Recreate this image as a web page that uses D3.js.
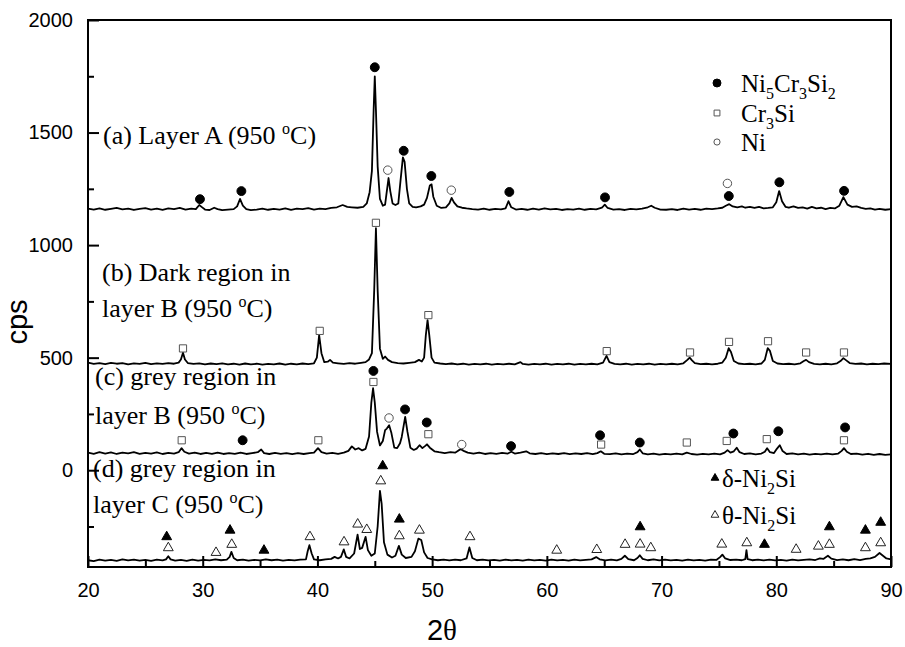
<!DOCTYPE html>
<html>
<head>
<meta charset="utf-8">
<script src="https://cdn.jsdelivr.net/npm/d3@7"></script>
<style>
  body { margin: 0; background: #fff; }
  .tick text { font-family: "Liberation Sans", Arial, sans-serif; font-size: 20px; fill: #000; }
  .note { font-family: "Liberation Serif", "Times New Roman", serif; font-size: 26px; fill: #000; }
  .leg { font-family: "Liberation Serif", "Times New Roman", serif; font-size: 25px; fill: #000; }
</style>
</head>
<body>
<div id="chart"></div>
<script>
// XRD patterns, [2theta, cps] (offset curves)
var layerA = [[20,1162],[20.5,1158],[21,1163],[21.5,1157],[22,1161],[22.5,1165],[23,1159],[23.5,1162],[24,1156],[24.5,1161],[25,1164],[25.5,1158],[26,1162],[26.5,1157],[27,1163],[27.5,1160],[28,1165],[28.5,1158],[29,1162],[29.4,1160],[29.7,1178],[29.9,1170],[30.2,1158],[30.6,1156],[31,1166],[31.3,1160],[31.7,1155],[32.2,1158],[32.7,1160],[33.0,1172],[33.25,1205],[33.5,1175],[33.8,1160],[34.2,1155],[34.7,1158],[35.2,1162],[35.7,1157],[36.2,1161],[36.7,1158],[37.2,1163],[37.7,1157],[38.2,1162],[38.7,1160],[39.2,1164],[39.7,1158],[40.2,1162],[40.7,1160],[41.2,1165],[41.7,1168],[42.2,1178],[42.6,1170],[43.0,1168],[43.5,1166],[44.0,1170],[44.3,1185],[44.55,1235],[44.75,1330],[44.9,1600],[45.0,1750],[45.1,1600],[45.25,1350],[45.45,1205],[45.7,1175],[45.9,1180],[46.05,1240],[46.2,1298],[46.35,1240],[46.55,1185],[46.8,1178],[47.05,1185],[47.25,1290],[47.45,1390],[47.6,1370],[47.8,1250],[48.0,1185],[48.3,1170],[48.6,1168],[49.0,1172],[49.3,1180],[49.55,1210],[49.8,1265],[49.95,1270],[50.1,1215],[50.4,1175],[50.8,1165],[51.2,1168],[51.5,1185],[51.7,1210],[51.9,1190],[52.2,1172],[52.6,1166],[53.0,1163],[53.5,1160],[54.0,1158],[54.5,1162],[55.0,1157],[55.5,1161],[56.0,1159],[56.4,1163],[56.65,1195],[56.9,1168],[57.3,1158],[57.8,1161],[58.3,1157],[58.8,1162],[59.3,1158],[59.8,1163],[60.3,1159],[60.8,1161],[61.3,1156],[61.8,1160],[62.3,1158],[62.8,1162],[63.3,1157],[63.8,1161],[64.3,1159],[64.8,1166],[65.05,1180],[65.3,1165],[65.8,1158],[66.3,1160],[66.8,1156],[67.3,1161],[67.8,1159],[68.3,1162],[68.8,1168],[69.1,1175],[69.4,1166],[69.9,1158],[70.4,1157],[70.9,1160],[71.4,1156],[71.9,1162],[72.4,1158],[72.9,1161],[73.4,1157],[73.9,1162],[74.4,1160],[74.9,1163],[75.3,1166],[75.6,1175],[75.9,1182],[76.2,1172],[76.6,1168],[77.0,1172],[77.3,1166],[77.7,1170],[78.1,1165],[78.5,1170],[78.9,1163],[79.3,1165],[79.7,1168],[80.0,1190],[80.25,1240],[80.5,1195],[80.8,1170],[81.1,1166],[81.5,1172],[81.9,1165],[82.3,1168],[82.7,1162],[83.1,1170],[83.5,1163],[83.9,1166],[84.3,1160],[84.7,1165],[85.1,1163],[85.5,1175],[85.85,1213],[86.2,1180],[86.6,1170],[87.0,1172],[87.4,1165],[87.8,1161],[88.2,1163],[88.6,1158],[89.0,1161],[89.5,1157],[90,1160]];

var layerB = [[20,478],[20.5,472],[21,476],[21.5,471],[22,477],[22.5,473],[23,476],[23.5,470],[24,475],[24.5,472],[25,477],[25.5,471],[26,475],[26.5,472],[27,476],[27.5,473],[27.9,478],[28.1,492],[28.28,522],[28.45,492],[28.7,476],[29.2,472],[29.7,475],[30.2,470],[30.7,474],[31.2,471],[31.7,475],[32.2,470],[32.7,473],[33.2,469],[33.7,474],[34.2,470],[34.7,473],[35.2,469],[35.7,472],[36.2,470],[36.7,474],[37.2,469],[37.7,473],[38.2,470],[38.7,474],[39.2,471],[39.7,475],[39.95,500],[40.15,600],[40.35,520],[40.6,480],[40.9,482],[41.1,490],[41.35,478],[41.8,475],[42.3,472],[42.8,476],[43.3,473],[43.8,477],[44.2,480],[44.5,492],[44.75,520],[44.95,800],[45.1,1075],[45.25,800],[45.45,540],[45.7,495],[45.9,505],[46.15,490],[46.5,480],[47.0,476],[47.5,474],[48.0,477],[48.5,480],[48.85,490],[49.1,483],[49.3,500],[49.45,600],[49.6,667],[49.75,600],[49.95,500],[50.2,478],[50.7,474],[51.2,471],[51.7,474],[52.2,470],[52.7,473],[53.2,469],[53.7,472],[54.2,470],[54.7,473],[55.2,469],[55.7,472],[56.2,470],[56.7,473],[57.2,470],[57.7,480],[57.9,472],[58.4,469],[58.9,472],[59.4,470],[59.9,473],[60.4,469],[60.9,472],[61.4,470],[61.9,473],[62.4,469],[62.9,472],[63.4,470],[63.9,473],[64.4,470],[64.9,478],[65.2,508],[65.45,480],[65.9,472],[66.4,470],[66.9,473],[67.4,469],[67.9,472],[68.4,470],[68.9,473],[69.4,469],[69.9,472],[70.4,470],[70.9,473],[71.4,470],[71.9,475],[72.25,490],[72.45,500],[72.65,488],[72.9,476],[73.4,471],[73.9,473],[74.4,470],[74.9,473],[75.3,478],[75.6,500],[75.85,542],[76.05,525],[76.3,485],[76.7,474],[77.2,471],[77.7,473],[78.2,470],[78.7,474],[79.0,490],[79.25,542],[79.45,530],[79.7,485],[80.1,474],[80.6,471],[81.1,473],[81.6,470],[82.1,475],[82.4,485],[82.6,490],[82.85,480],[83.3,472],[83.8,470],[84.3,473],[84.8,470],[85.3,475],[85.6,485],[85.85,498],[86.1,488],[86.4,476],[86.9,472],[87.4,474],[87.9,470],[88.4,473],[88.9,471],[89.4,474],[90,472]];

var layerC = [[20,78],[20.5,73],[21,80],[21.5,74],[22,79],[22.5,72],[23,78],[23.5,75],[24,80],[24.5,73],[25,77],[25.5,74],[26,79],[26.5,72],[27,77],[27.5,74],[27.9,80],[28.15,98],[28.4,82],[28.8,74],[29.3,78],[29.8,72],[30.3,77],[30.8,73],[31.3,78],[31.8,72],[32.3,76],[32.8,73],[33.3,78],[33.8,72],[34.3,76],[34.8,80],[35.1,92],[35.35,76],[35.8,72],[36.3,77],[36.8,73],[37.3,76],[37.8,71],[38.3,76],[38.8,72],[39.3,76],[39.7,78],[40.05,98],[40.35,80],[40.8,74],[41.3,77],[41.8,73],[42.3,78],[42.7,86],[43.0,106],[43.3,92],[43.6,98],[43.9,88],[44.2,95],[44.5,150],[44.7,300],[44.85,364],[45.0,300],[45.2,170],[45.45,110],[45.7,130],[45.9,178],[46.05,185],[46.25,200],[46.45,165],[46.7,100],[46.95,98],[47.2,120],[47.35,148],[47.65,237],[47.85,170],[48.1,100],[48.4,90],[48.65,96],[48.9,111],[49.15,98],[49.4,108],[49.55,115],[49.8,100],[50.2,84],[50.6,80],[51.1,76],[51.6,80],[52.0,78],[52.3,88],[52.5,93],[52.75,86],[53.1,78],[53.6,74],[54.1,78],[54.6,72],[55.1,76],[55.6,73],[56.1,77],[56.6,74],[56.9,82],[57.2,74],[57.7,78],[58.2,84],[58.5,75],[59.0,72],[59.5,76],[60.0,71],[60.5,75],[61.0,72],[61.5,76],[62.0,71],[62.5,75],[63.0,72],[63.5,76],[64.0,71],[64.4,76],[64.7,84],[65.0,73],[65.5,71],[66.0,75],[66.5,70],[67.0,74],[67.5,71],[67.9,80],[68.1,92],[68.35,75],[68.8,70],[69.3,74],[69.8,69],[70.3,73],[70.8,70],[71.3,74],[71.8,70],[72.2,78],[72.6,72],[73.1,69],[73.6,73],[74.1,70],[74.6,74],[75.1,70],[75.5,78],[75.75,89],[76.0,78],[76.3,84],[76.55,100],[76.8,80],[77.2,72],[77.7,75],[78.2,70],[78.7,74],[79.0,82],[79.2,98],[79.45,80],[79.8,76],[80.05,95],[80.3,111],[80.55,85],[80.9,72],[81.4,75],[81.9,70],[82.4,74],[82.9,69],[83.4,73],[83.9,70],[84.4,74],[84.9,70],[85.4,74],[85.7,86],[85.9,98],[86.15,82],[86.5,72],[87.0,74],[87.5,69],[88.0,73],[88.5,68],[89.0,72],[89.5,68],[90,70]];

var layerD = [[20,-400],[20.5,-404],[21,-397],[21.5,-402],[22,-398],[22.5,-403],[23,-396],[23.5,-401],[24,-397],[24.5,-402],[25,-398],[25.5,-403],[26,-397],[26.5,-401],[26.8,-396],[27.0,-382],[27.2,-396],[27.6,-402],[28.1,-398],[28.6,-403],[29.1,-397],[29.6,-402],[30.1,-398],[30.6,-401],[31.1,-396],[31.6,-400],[32.1,-397],[32.35,-385],[32.5,-363],[32.7,-390],[33.0,-400],[33.5,-397],[34.0,-402],[34.5,-398],[35.0,-401],[35.5,-396],[36.0,-400],[36.5,-397],[37.0,-402],[37.5,-398],[38.0,-401],[38.5,-397],[39.0,-396],[39.15,-360],[39.3,-333],[39.5,-370],[39.7,-396],[40.2,-400],[40.7,-396],[41.2,-394],[41.5,-385],[41.8,-392],[42.05,-385],[42.3,-352],[42.5,-385],[42.8,-392],[43.2,-370],[43.5,-286],[43.7,-350],[43.9,-345],[44.2,-296],[44.4,-355],[44.7,-380],[45.0,-370],[45.25,-250],[45.45,-92],[45.6,-150],[45.8,-320],[46.1,-375],[46.5,-388],[46.8,-380],[47.1,-336],[47.35,-375],[47.7,-390],[48.2,-385],[48.5,-360],[48.8,-304],[49.05,-310],[49.3,-365],[49.6,-390],[50.0,-396],[50.5,-400],[51.0,-397],[51.5,-401],[52.0,-397],[52.5,-400],[53.0,-392],[53.25,-343],[53.5,-390],[53.9,-400],[54.4,-397],[54.9,-401],[55.4,-398],[55.9,-402],[56.4,-397],[56.9,-401],[57.4,-398],[57.9,-402],[58.4,-397],[58.9,-401],[59.4,-398],[59.9,-402],[60.4,-397],[60.9,-401],[61.4,-398],[61.9,-402],[62.4,-397],[62.9,-401],[63.4,-398],[63.9,-396],[64.3,-386],[64.6,-396],[65.1,-401],[65.6,-397],[66.1,-401],[66.5,-394],[66.8,-380],[67.1,-395],[67.6,-400],[67.9,-390],[68.1,-378],[68.35,-394],[68.8,-400],[69.3,-396],[69.8,-401],[70.3,-397],[70.8,-401],[71.3,-398],[71.8,-402],[72.3,-397],[72.8,-401],[73.3,-398],[73.8,-402],[74.3,-397],[74.8,-398],[75.1,-386],[75.3,-375],[75.55,-392],[76.0,-399],[76.5,-397],[77.0,-400],[77.3,-395],[77.4,-355],[77.5,-395],[77.9,-400],[78.4,-397],[78.9,-401],[79.4,-397],[79.9,-401],[80.4,-398],[80.9,-402],[81.4,-397],[81.9,-401],[82.4,-398],[82.9,-396],[83.4,-399],[83.8,-392],[84.1,-394],[84.5,-380],[84.8,-393],[85.3,-399],[85.8,-396],[86.3,-400],[86.8,-395],[87.3,-399],[87.8,-394],[88.2,-392],[88.6,-385],[89.0,-368],[89.3,-380],[89.6,-392],[90,-396]];

// phase markers [2theta, cps]
var ni5cr3si2 = [[29.76,1204],[33.37,1240],[45.0,1790],[47.52,1419],[49.93,1307],[56.73,1236],[65.07,1212],[75.86,1218],[80.27,1279],[85.91,1241],
                 [33.48,133],[44.88,441],[47.64,270],[49.53,212],[56.88,107],[64.64,155],[68.1,123],[76.26,163],[80.18,173],[86.0,190]];
var cr3si = [[28.28,541],[40.2,619],[45.1,1099],[49.67,689],[65.22,529],[72.48,523],[75.88,570],[79.28,573],[82.6,523],[85.9,523],
             [28.17,133],[40.08,133],[44.88,392],[49.67,160],[64.73,114],[72.2,123],[75.68,130],[79.17,138],[85.9,133]];
var niPhase = [[46.13,1333],[51.67,1244],[75.74,1274],[46.24,232],[52.58,114]];
var deltaNi2Si = [[26.86,-296],[32.38,-267],[35.34,-356],[45.69,19],[47.14,-218],[68.13,-252],[78.97,-330],[84.63,-252],[87.77,-267],[89.1,-232]];
var thetaNi2Si = [[27.0,-345],[31.16,-366],[32.53,-330],[39.35,-296],[42.32,-319],[43.51,-240],[44.3,-264],[45.52,-48],[47.14,-292],[48.89,-267],[53.3,-296],[60.86,-356],[64.35,-353],[66.82,-330],[68.13,-329],[69.06,-345],[75.25,-329],[77.43,-323],[81.73,-352],[83.67,-338],[84.63,-330],[87.77,-345],[89.1,-323]];

var xTicks = [20, 30, 40, 50, 60, 70, 80, 90];
var xMinor = [25, 35, 45, 55, 65, 75, 85];
var yTicks = [0, 500, 1000, 1500, 2000];
var yMinor = [-250, 250, 750, 1250, 1750];

var width = 905, height = 647;
var margin = {left: 88, right: 14, top: 20, bottom: 80};

var svg = d3.select("#chart").append("svg")
  .attr("width", width)
  .attr("height", height);

var x = d3.scaleLinear().domain([20, 90]).range([margin.left, width - margin.right]);
var y = d3.scaleLinear().domain([-430, 2000]).range([height - margin.bottom, margin.top]);

// axes, ticks pointing inward
svg.append("g")
  .attr("transform", "translate(0," + (height - margin.bottom) + ")")
  .call(d3.axisBottom(x).tickValues(xTicks).tickSize(-11).tickPadding(16).tickFormat(d3.format("d")))
  .call(function(g){ g.select(".domain").remove(); });
svg.append("g")
  .attr("transform", "translate(0," + (height - margin.bottom) + ")")
  .call(d3.axisBottom(x).tickValues(xMinor).tickSize(-6).tickFormat(""))
  .call(function(g){ g.select(".domain").remove(); });
svg.append("g")
  .attr("transform", "translate(" + margin.left + ",0)")
  .call(d3.axisLeft(y).tickValues(yTicks).tickSize(-11).tickPadding(15).tickFormat(d3.format("d")))
  .call(function(g){ g.select(".domain").remove(); });
svg.append("g")
  .attr("transform", "translate(" + margin.left + ",0)")
  .call(d3.axisLeft(y).tickValues(yMinor).tickSize(-6).tickFormat(""))
  .call(function(g){ g.select(".domain").remove(); });
svg.selectAll(".tick line").attr("stroke", "#000").attr("stroke-width", 2);

svg.append("rect")
  .attr("x", x(20)).attr("y", y(2000))
  .attr("width", x(90) - x(20)).attr("height", y(-430) - y(2000))
  .attr("fill", "none").attr("stroke", "#000").attr("stroke-width", 2);

// traces
var line = d3.line().x(function(d){ return x(d[0]); }).y(function(d){ return y(d[1]); });
[layerA, layerB, layerC, layerD].forEach(function(t){
  svg.append("path").datum(t)
    .attr("d", line)
    .attr("fill", "none").attr("stroke", "#000").attr("stroke-width", 1.8)
    .attr("stroke-linejoin", "round");
});

function marks(data, type, size, fill, stroke){
  svg.append("g").selectAll("path").data(data).enter().append("path")
    .attr("transform", function(d){ return "translate(" + x(d[0]) + "," + y(d[1]) + ")"; })
    .attr("d", d3.symbol().type(type).size(size))
    .attr("fill", fill).attr("stroke", stroke).attr("stroke-width", 1);
}
marks(ni5cr3si2, d3.symbolCircle, 62, "#000", "#000");
marks(cr3si, d3.symbolSquare, 52, "#fff", "#555");
marks(niPhase, d3.symbolCircle, 56, "#fff", "#555");
marks(deltaNi2Si, d3.symbolTriangle, 42, "#000", "#000");
marks(thetaNi2Si, d3.symbolTriangle, 42, "#fff", "#222");

// sample labels
function note(xp, yp, parts){
  var t = svg.append("text").attr("class", "note").attr("x", xp).attr("y", yp);
  parts.forEach(function(p){
    var s = t.append("tspan").text(p[0]);
    if (p[1]) s.attr("dy", p[1]);
    if (p[2]) s.style("font-size", p[2]);
  });
}
note(103, 144, [["(a) Layer A (950 "], ["o", -10, "16px"], ["C)", 10]]);
note(102, 281, [["(b) Dark region in"]]);
note(102, 317, [["layer B (950 "], ["o", -10, "16px"], ["C)", 10]]);
note(95, 385, [["(c) grey region in"]]);
note(95, 424, [["layer B (950 "], ["o", -10, "16px"], ["C)", 10]]);
note(93, 477, [["(d) grey region in"]]);
note(93, 513, [["layer C (950 "], ["o", -10, "16px"], ["C)", 10]]);

// legends
var legTop = [
  {sym: d3.symbolCircle, size: 50, fill: "#000", stroke: "#000", y: 83, parts: [["Ni"], ["5", 7], ["Cr", -7], ["3", 7], ["Si", -7], ["2", 7]]},
  {sym: d3.symbolSquare, size: 34, fill: "#fff", stroke: "#555", y: 113, parts: [["Cr"], ["3", 7], ["Si", -7]]},
  {sym: d3.symbolCircle, size: 30, fill: "#fff", stroke: "#555", y: 142, parts: [["Ni"]]}
];
var legBot = [
  {sym: d3.symbolTriangle, size: 26, fill: "#000", stroke: "#000", y: 478, parts: [["\u03b4-Ni"], ["2", 7], ["Si", -7]]},
  {sym: d3.symbolTriangle, size: 26, fill: "#fff", stroke: "#222", y: 515, parts: [["\u03b8-Ni"], ["2", 7], ["Si", -7]]}
];
function legend(items, mx, tx){
  items.forEach(function(it){
    svg.append("path")
      .attr("transform", "translate(" + mx + "," + it.y + ")")
      .attr("d", d3.symbol().type(it.sym).size(it.size))
      .attr("fill", it.fill).attr("stroke", it.stroke).attr("stroke-width", 1);
    var t = svg.append("text").attr("class", "leg").attr("x", tx).attr("y", it.y + 9);
    it.parts.forEach(function(p){
      var s = t.append("tspan").text(p[0]);
      if (p[1]) s.attr("dy", p[1]);
      if (p[1] > 0) s.style("font-size", "16px");
    });
  });
}
legend(legTop, 717, 741);
legend(legBot, 715, 722);

// axis titles
svg.append("text")
  .attr("transform", "translate(27,322) rotate(-90)")
  .attr("text-anchor", "middle")
  .style("font-family", "Liberation Sans, Arial, sans-serif")
  .style("font-size", "29px")
  .text("cps");
var xt = svg.append("text")
  .attr("x", 442).attr("y", 640)
  .attr("text-anchor", "middle")
  .style("font-size", "29px");
xt.append("tspan").style("font-family", "Liberation Sans, Arial, sans-serif").text("2");
xt.append("tspan").style("font-family", "Liberation Serif, Times New Roman, serif").text("\u03b8");
</script>
</body>
</html>
